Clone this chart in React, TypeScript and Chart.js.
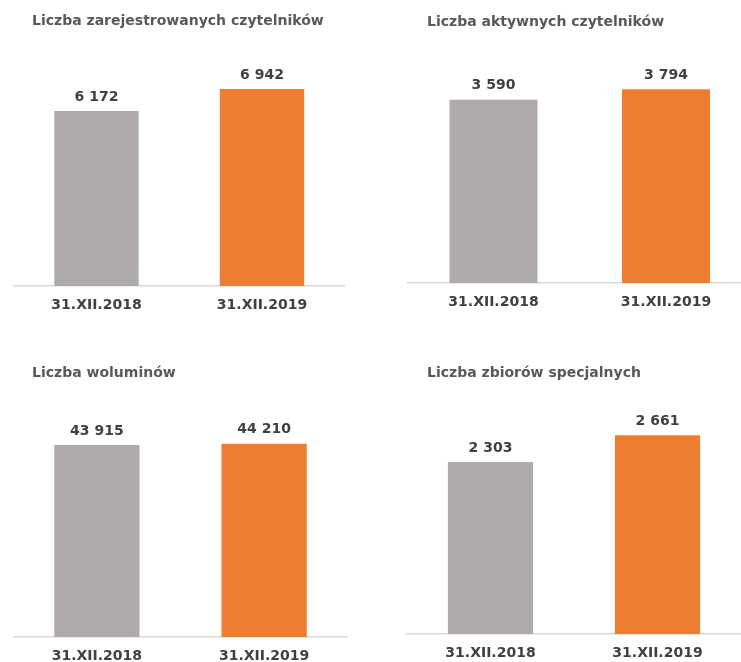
import React, { useEffect, useRef } from "react";
import { Chart, registerables } from "chart.js";

Chart.register(...registerables);

const categories = ["31.XII.2018", "31.XII.2019"];
const registeredReaders = [6172, 6942];
const activeReaders = [3590, 3794];
const volumes = [43915, 44210];
const specialCollections = [2303, 2661];

const titleRegistered = "Liczba zarejestrowanych czytelników";
const titleActive = "Liczba aktywnych czytelników";
const titleVolumes = "Liczba woluminów";
const titleSpecial = "Liczba zbiorów specjalnych";

const GRAY = "#AFABAB";
const ORANGE = "#ED7D31";
const FONT = '"DejaVu Sans", Verdana, sans-serif';

const fmt = (v: number) => String(v).replace(/\B(?=(\d{3})+(?!\d))/g, " ");

type Panel = {
  title: string;
  values: number[];
  yMax: number;
  left: number;
  top: number;
  width: number;
  height: number;
  padLeft: number;
  padRight: number;
  padTop: number;
  axisHeight: number;
  titleX: number;
  titleY: number;
};

const panels: Panel[] = [
  { title: titleRegistered, values: registeredReaders, yMax: 8000, left: 0, top: 0, width: 370, height: 331, padLeft: 13.75, padRight: 25.25, padTop: 59.1, axisHeight: 45, titleX: 32, titleY: 21 },
  { title: titleActive, values: activeReaders, yMax: 4000, left: 370, top: 0, width: 400, height: 331, padLeft: 37.25, padRight: 17.75, padTop: 78.8, axisHeight: 48, titleX: 57, titleY: 22 },
  { title: titleVolumes, values: volumes, yMax: 50000, left: 0, top: 331, width: 370, height: 340, padLeft: 13.25, padRight: 22.25, padTop: 87.5, axisHeight: 34, titleX: 32, titleY: 42 },
  { title: titleSpecial, values: specialCollections, yMax: 3000, left: 370, top: 331, width: 400, height: 340, padLeft: 37, padRight: 29, padTop: 78.8, axisHeight: 37, titleX: 57, titleY: 42 },
];

function ChartPanel({ p }: { p: Panel }) {
  const ref = useRef<HTMLCanvasElement | null>(null);
  useEffect(() => {
    if (!ref.current) return;
    const labelPlugin = {
      id: "labelsAndTitle",
      afterDatasetsDraw(chart: any) {
        const ctx = chart.ctx;
        ctx.save();
        ctx.font = `bold 14px ${FONT}`;
        ctx.fillStyle = "#595959";
        ctx.textAlign = "left";
        ctx.textBaseline = "middle";
        ctx.fillText(p.title, p.titleX, p.titleY);
        const meta = chart.getDatasetMeta(0);
        ctx.fillStyle = "#404040";
        ctx.textAlign = "center";
        meta.data.forEach((bar: any, i: number) => {
          ctx.fillText(fmt(p.values[i]), bar.x, bar.y - 14);
        });
        ctx.restore();
      },
    };
    const chart = new Chart(ref.current, {
      type: "bar",
      data: {
        labels: categories,
        datasets: [
          {
            data: p.values,
            backgroundColor: [GRAY, ORANGE],
            barPercentage: 0.51,
            categoryPercentage: 1,
          },
        ],
      },
      options: {
        responsive: false,
        animation: false,
        devicePixelRatio: 1,
        layout: { padding: { left: p.padLeft, right: p.padRight, top: p.padTop, bottom: 0 } },
        plugins: { legend: { display: false }, title: { display: false }, tooltip: { enabled: false } },
        scales: {
          x: {
            grid: { display: false, drawTicks: false },
            border: { display: true, color: "#D9D9D9", width: 1.5 },
            ticks: { color: "#404040", font: { family: FONT, size: 14, weight: "bold" }, padding: 10.6 },
            afterFit: (axis: any) => {
              axis.height = p.axisHeight;
            },
          },
          y: { display: false, min: 0, max: p.yMax },
        },
      },
      plugins: [labelPlugin],
    } as any);
    return () => chart.destroy();
  }, [p]);
  return (
    <canvas
      ref={ref}
      width={p.width}
      height={p.height}
      style={{ position: "absolute", left: p.left, top: p.top, width: p.width, height: p.height }}
    />
  );
}

export default function App() {
  return (
    <div style={{ position: "fixed", left: 0, top: 0, width: 741, height: 662, overflow: "hidden", background: "#fff" }}>
      {panels.map((p, i) => (
        <ChartPanel key={i} p={p} />
      ))}
    </div>
  );
}
